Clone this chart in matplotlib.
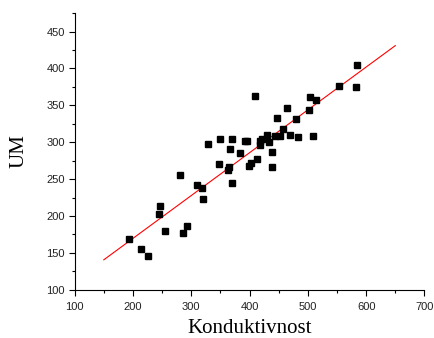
import numpy as np
import matplotlib
matplotlib.use("Agg")
import matplotlib.pyplot as plt
from matplotlib.ticker import MultipleLocator

# measured points (Konduktivnost vs UM)
konduktivnost = [193, 214, 225, 244, 246.5, 255.5, 281, 286.5, 293, 310, 319, 320.5,
                 329, 347, 349, 362.5, 365.5, 366.5, 370, 370, 384, 392, 396, 398.5,
                 402.5, 409.5, 412.5, 417.5, 418, 422, 430.5, 433, 438, 438, 444.5,
                 447.5, 452.5, 457.5, 463.5, 470, 480, 482.5, 502, 504, 508.5, 513.5,
                 554, 583, 584.5]
um = [169, 155, 145, 203, 213, 179, 256, 177, 186, 242, 238.5, 223,
      297, 270, 305, 262, 266.5, 291, 304, 244, 285, 302, 301, 268,
      272, 362, 277.5, 301, 296, 304, 309.5, 300, 286.5, 266, 308.5,
      333.5, 308.5, 317.5, 347, 309.5, 331, 307.5, 343.5, 361.5, 308.5, 357,
      376, 374.5, 404.5]

# linear fit endpoints
fit_x = [150, 650]
fit_y = [140.5, 431]

fig = plt.figure(figsize=(4.34, 3.38), dpi=100)
ax = fig.add_axes([0.172, 0.143, 0.806, 0.818])

ax.plot(fit_x, fit_y, color="red", lw=0.8, zorder=2)
ax.plot(konduktivnost, um, "s", color="black", ms=4.0, zorder=3)

ax.set_xlim(100, 700)
ax.set_ylim(100, 475)
ax.xaxis.set_major_locator(MultipleLocator(100))
ax.xaxis.set_minor_locator(MultipleLocator(50))
ax.yaxis.set_major_locator(MultipleLocator(50))
ax.yaxis.set_minor_locator(MultipleLocator(25))
ax.set_yticks([100, 150, 200, 250, 300, 350, 400, 450])

for s in ["top", "right"]:
    ax.spines[s].set_visible(False)
for s in ["left", "bottom"]:
    ax.spines[s].set_linewidth(0.8)

ax.tick_params(which="major", direction="out", length=4, width=0.8,
               labelsize=8, labelcolor="#222222", pad=3,
               labelfontfamily="Liberation Sans")
ax.tick_params(axis="x", which="major", pad=5)
ax.tick_params(which="minor", direction="out", length=2.5, width=0.8)

ax.set_xlabel("Konduktivnost", fontsize=15, family="Liberation Serif", labelpad=5)
ax.set_ylabel("UM", fontsize=15, family="Liberation Serif", labelpad=13)

fig.savefig("out.png", dpi=100)
